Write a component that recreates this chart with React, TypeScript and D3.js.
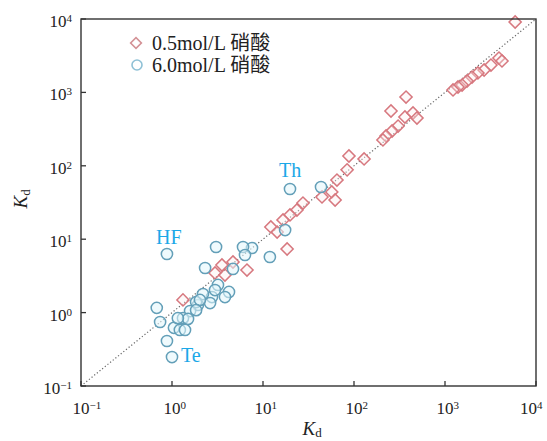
import React from "react";
import * as d3 from "d3";

// 0.5 mol/L HNO3 (diamonds)
const diluteKdX = [5900, 3920, 4230, 3200, 2690, 2300, 1980, 1745, 1540, 1390, 1225, 373, 255, 363, 445, 492, 305, 262, 225, 208, 88, 129, 84, 65, 57, 44.5, 62, 27.5, 23.6, 19.8, 16.6, 12.2, 14.3, 18.4, 4.68, 6.67, 3.54, 2.97, 3.82, 1.32];
const diluteKdY = [9100, 2940, 2680, 2360, 2020, 1840, 1620, 1430, 1260, 1185, 1080, 865, 558, 462, 524, 448, 348, 298, 255, 225, 136, 124, 88, 64, 44, 37.6, 34.2, 31.1, 25, 21.4, 18.3, 14.7, 12.5, 7.35, 4.89, 3.8, 4.45, 3.47, 3.25, 1.49];

// 6.0 mol/L HNO3 (circles)
const concKdX = [19.8, 43.4, 17.5, 7.57, 6.03, 6.34, 11.9, 0.88, 3.05, 2.31, 4.68, 3.2, 4.23, 3.82, 2.75, 2.19, 2.62, 1.93, 1.58, 1.32, 1.5, 0.68, 0.74, 1.05, 1.22, 1.39, 0.88, 1.0, 1.84, 2.97, 2.03, 1.84, 1.16];
const concKdY = [48.3, 51.4, 13.3, 7.59, 7.83, 6.09, 5.72, 6.29, 7.83, 4.05, 3.93, 2.38, 1.91, 1.63, 1.63, 1.79, 1.35, 1.27, 1.05, 0.84, 0.82, 1.16, 0.745, 0.62, 0.58, 0.58, 0.41, 0.248, 1.39, 2.03, 1.49, 1.08, 0.84];

const seriesNames = ["0.5mol/L 硝酸", "6.0mol/L 硝酸"];
const tickExponents = [-1, 0, 1, 2, 3, 4];
const annotationNames = ["HF", "Th", "Te"];
const annotationIndex = [7, 0, 27];
const annotationOffset: [number, number][] = [[-11, -10], [-11, -12], [9, 5]];

const W = 547;
const H = 441;
const L = 81, R = 536, T = 19, B = 386;
const FONT = "'Liberation Serif', Tinos, 'Noto Sans CJK SC', serif";
const DIAMOND = "#d7787f";
const CIRCLE = "#639fb8";
const LABEL = "#1ba8e8";

function supLabel(exp: number) {
  return exp < 0 ? "\u2212" + Math.abs(exp) : String(exp);
}

export default function App() {
  const x = d3.scaleLog().domain([0.1, 1e4]).range([L, R]);
  const y = d3.scaleLog().domain([0.1, 1e4]).range([B, T]);
  const diamondPath = d3.symbol(d3.symbolSquare, 74)()!;
  const legendDiamond = d3.symbol(d3.symbolSquare, 58)()!;

  return (
    <svg width={W} height={H} style={{ position: "absolute", left: 0, top: 0, background: "#fff", fontFamily: FONT }}>
      <rect x={0} y={0} width={W} height={H} fill="#fff" />
      {/* diagonal */}
      <line x1={x(0.1)} y1={y(0.1)} x2={x(1e4)} y2={y(1e4)} stroke="#666" strokeWidth={1.2} strokeDasharray="1.2 2.2" />
      {/* diamonds */}
      {diluteKdX.map((v, i) => (
        <path key={"d" + i} d={diamondPath} transform={`translate(${x(v)},${y(diluteKdY[i])}) rotate(45)`}
          fill="#fdeeee" fillOpacity={0.35} stroke={DIAMOND} strokeWidth={1.5} />
      ))}
      {/* circles */}
      {concKdX.map((v, i) => (
        <circle key={"c" + i} cx={x(v)} cy={y(concKdY[i])} r={5.6}
          fill="#e2f6fb" fillOpacity={0.55} stroke={CIRCLE} strokeWidth={1.5} />
      ))}
      {/* annotations */}
      {annotationNames.map((n, i) => (
        <text key={n} x={x(concKdX[annotationIndex[i]]) + annotationOffset[i][0]}
          y={y(concKdY[annotationIndex[i]]) + annotationOffset[i][1]} fontSize={20} fill={LABEL}>{n}</text>
      ))}
      {/* frame */}
      <rect x={L} y={T} width={R - L} height={B - T} fill="none" stroke="#333" strokeWidth={1.4} />
      {/* ticks */}
      {tickExponents.map((e) => (
        <g key={"t" + e}>
          <line x1={L} x2={L + 5} y1={y(Math.pow(10, e))} y2={y(Math.pow(10, e))} stroke="#333" strokeWidth={1.3} />
          <line x1={x(Math.pow(10, e))} x2={x(Math.pow(10, e))} y1={B} y2={B - 5} stroke="#333" strokeWidth={1.3} />
          <text x={72} y={y(Math.pow(10, e)) + 8} textAnchor="end" fontSize={17} fill="#222">
            10<tspan fontSize={11} dy={-5}>{supLabel(e)}</tspan>
          </text>
          <text x={Math.min(x(Math.pow(10, e)) - 8.5, W - 27)} y={414} fontSize={17} fill="#222">
            10<tspan fontSize={11} dy={-5}>{supLabel(e)}</tspan>
          </text>
        </g>
      ))}
      {/* axis titles */}
      <text x={(L + R) / 2 - 6} y={435} fontSize={19} fill="#222">
        <tspan fontStyle="italic">K</tspan><tspan fontSize={13} dy={2}>d</tspan>
      </text>
      <text transform={`translate(27,${(T + B) / 2 + 6}) rotate(-90)`} fontSize={19} fill="#222">
        <tspan fontStyle="italic">K</tspan><tspan fontSize={13} dy={3}>d</tspan>
      </text>
      {/* legend */}
      <path d={legendDiamond} transform="translate(136,43) rotate(45)" fill="none" stroke="#d49296" strokeWidth={1.6} />
      <circle cx={137} cy={65} r={5} fill="none" stroke="#8fc1d6" strokeWidth={1.6} />
      <text x={152} y={50} fontSize={20} fill="#222">{seriesNames[0]}</text>
      <text x={152} y={71.5} fontSize={20} fill="#222">{seriesNames[1]}</text>
    </svg>
  );
}
